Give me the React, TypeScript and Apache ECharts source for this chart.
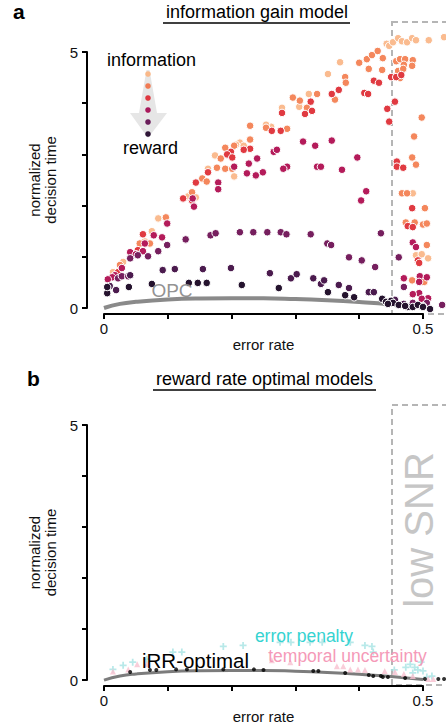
import React, { useEffect, useRef } from 'react';
import * as echarts from 'echarts';

const FF = '"Liberation Sans", Arial, Helvetica, sans-serif';

// ---------- panel a: information gain model (7 weighting levels, information -> reward) ----------
const levelNames = ['w1', 'w2', 'w3', 'w4', 'w5', 'w6', 'w7'];
const levelColors = ['#fabb8f', '#f4875c', '#e03a41', '#b41b5a', '#761f5e', '#4b1b4e', '#25132e'];

const level1 = [
  [0.443, 5.16], [0.447, 5.12], [0.453, 5.19], [0.461, 5.27], [0.467, 5.21], [0.475, 5.19], [0.483, 5.27],
  [0.489, 5.23], [0.509, 5.23], [0.533, 5.29], [0.37, 4.8], [0.351, 4.57], [0.321, 4.18], [0.306, 3.93],
  [0.279, 3.91], [0.262, 3.54], [0.254, 3.58], [0.213, 3.23], [0.207, 3.19], [0.219, 3.17], [0.174, 2.98],
  [0.163, 2.72], [0.204, 2.57], [0.132, 2.18], [0.144, 2.16], [0.085, 1.75], [0.075, 1.5], [0.064, 1.3],
  [0.014, 0.7], [0.03, 0.9], [0.484, 2.24], [0.489, 1.03], [0.498, 1.05], [0.508, 0.97],
];
const level2 = [
  [0.4, 4.79], [0.412, 4.86], [0.42, 4.94], [0.429, 5.02], [0.437, 4.88], [0.458, 4.82], [0.464, 4.86],
  [0.472, 4.86], [0.484, 4.84], [0.483, 4.73], [0.47, 4.75], [0.461, 4.63], [0.469, 4.67], [0.456, 4.51],
  [0.464, 4.49], [0.415, 4.67], [0.436, 4.65], [0.378, 4.51], [0.379, 4.4], [0.334, 4.18], [0.296, 4.11],
  [0.307, 4.05], [0.318, 3.91], [0.362, 4.07], [0.229, 3.56], [0.254, 3.52], [0.287, 3.5], [0.229, 3.29],
  [0.204, 3.17], [0.19, 3.13], [0.183, 2.92], [0.177, 2.74], [0.19, 2.72], [0.201, 2.72], [0.154, 2.53],
  [0.161, 2.47], [0.138, 2.26], [0.097, 1.77], [0.056, 1.26], [0.072, 1.26], [0.025, 0.84], [0.498, 3.72],
  [0.486, 3.35], [0.483, 2.94], [0.489, 2.8], [0.467, 2.24], [0.475, 2.24], [0.503, 1.95], [0.473, 1.67],
  [0.487, 1.67], [0.5, 1.63], [0.506, 1.65], [0.506, 1.23], [0.483, 0.54], [0.502, 0.51],
];
const level3 = [
  [0.423, 4.44], [0.431, 4.4], [0.45, 4.51], [0.458, 4.51], [0.466, 4.55], [0.357, 4.18], [0.368, 4.26],
  [0.408, 4.2], [0.414, 4.18], [0.324, 4.03], [0.326, 3.85], [0.315, 3.79], [0.279, 3.81], [0.263, 3.46],
  [0.277, 3.46], [0.229, 3.11], [0.219, 3.09], [0.199, 3.05], [0.193, 3.0], [0.201, 2.94], [0.163, 2.65],
  [0.144, 2.45], [0.124, 2.14], [0.138, 2.1], [0.061, 1.44], [0.053, 1.13], [0.022, 0.7], [0.456, 4.03],
  [0.444, 3.89], [0.447, 3.64], [0.459, 2.86], [0.459, 2.76], [0.469, 2.74], [0.483, 1.95], [0.476, 1.6],
  [0.484, 1.58], [0.492, 0.93], [0.494, 0.88],
];
const level4 = [
  [0.312, 3.25], [0.331, 3.17], [0.357, 3.27], [0.397, 2.94], [0.266, 3.05], [0.271, 3.09], [0.24, 2.92],
  [0.227, 2.82], [0.204, 2.76], [0.287, 2.76], [0.281, 2.72], [0.334, 2.76], [0.34, 2.76], [0.373, 2.7],
  [0.224, 2.63], [0.238, 2.59], [0.249, 2.65], [0.411, 2.28], [0.403, 2.1], [0.179, 2.45], [0.179, 2.32],
  [0.139, 2.14], [0.141, 1.98], [0.099, 1.65], [0.078, 1.42], [0.091, 1.38], [0.064, 1.26], [0.041, 1.09],
  [0.061, 1.11], [0.05, 1.05], [0.017, 0.64], [0.028, 0.78], [0.013, 0.6], [0.006, 0.56], [0.484, 1.28],
  [0.489, 1.19], [0.47, 0.58], [0.495, 0.62], [0.506, 0.6], [0.494, 0.51], [0.494, 0.29], [0.484, 0.27],
  [0.508, 0.19], [0.498, 0.18],
];
const level5 = [
  [0.128, 1.34], [0.167, 1.42], [0.175, 1.46], [0.213, 1.48], [0.234, 1.48], [0.256, 1.48], [0.277, 1.48],
  [0.286, 1.44], [0.324, 1.44], [0.35, 1.26], [0.356, 1.23], [0.384, 0.99], [0.404, 0.93], [0.425, 0.8],
  [0.434, 1.46], [0.462, 0.99], [0.099, 1.23], [0.085, 1.11], [0.041, 0.97], [0.053, 1.03], [0.069, 1.01],
  [0.022, 0.58], [0.028, 0.62], [0.038, 0.62], [0.47, 0.41], [0.484, 0.1], [0.506, 0.1], [0.53, 0.06],
];
const level6 = [
  [0.092, 0.74], [0.111, 0.76], [0.155, 0.76], [0.199, 0.78], [0.26, 0.68], [0.293, 0.58], [0.302, 0.66],
  [0.328, 0.58], [0.34, 0.47], [0.345, 0.54], [0.368, 0.45], [0.384, 0.39], [0.415, 0.31], [0.423, 0.31],
  [0.041, 0.64], [0.019, 0.35], [0.009, 0.43], [0.456, 0.16], [0.47, 0.08], [0.5, 0.04],
];
const level7 = [
  [0.005, 0.29], [0.005, 0.41], [0.039, 0.41], [0.075, 0.47], [0.133, 0.49], [0.147, 0.49], [0.161, 0.49],
  [0.216, 0.45], [0.274, 0.39], [0.351, 0.31], [0.378, 0.25], [0.392, 0.21], [0.436, 0.18], [0.442, 0.12],
  [0.45, 0.14], [0.453, 0.1], [0.462, 0.06], [0.476, 0.02], [0.484, 0.02], [0.492, 0.06], [0.5, 0.02],
  [0.511, -0.02], [0.445, 0.08], [0.472, 0.04],
];
const levels = [level1, level2, level3, level4, level5, level6, level7];

// optimal performance curve
const opcX = [0, 0.025, 0.05, 0.1, 0.15, 0.2, 0.25, 0.3, 0.35, 0.4, 0.45, 0.5];
const opcY = [0, 0.08, 0.12, 0.165, 0.185, 0.19, 0.19, 0.175, 0.15, 0.115, 0.07, 0.01];

// ---------- panel b: reward rate optimal models ----------
const irrOptimal = [
  [0.041, 0.16], [0.072, 0.2], [0.082, 0.2], [0.113, 0.21], [0.13, 0.21], [0.187, 0.21], [0.235, 0.21],
  [0.25, 0.2], [0.328, 0.18], [0.336, 0.18], [0.378, 0.14], [0.415, 0.1], [0.422, 0.08], [0.434, 0.08],
  [0.437, 0.06], [0.445, 0.06], [0.472, 0.04], [0.503, 0.02], [0.524, 0.02], [0.533, 0.02],
];
const errorPenalty = [
  [0.014, 0.21], [0.03, 0.29], [0.045, 0.35], [0.067, 0.41], [0.108, 0.55], [0.122, 0.55], [0.187, 0.66],
  [0.218, 0.68], [0.276, 0.74], [0.293, 0.74], [0.323, 0.74], [0.342, 0.74], [0.386, 0.74], [0.409, 0.68],
  [0.42, 0.66], [0.422, 0.55], [0.48, 0.31], [0.487, 0.25], [0.492, 0.2], [0.5, 0.18], [0.484, 0.14],
  [0.506, 0.06], [0.514, 0.08], [0.473, 0.25], [0.497, 0.35], [0.455, 0.2],
];
const temporalUncertainty = [
  [0.014, 0.17], [0.038, 0.21], [0.052, 0.31], [0.067, 0.31], [0.263, 0.39], [0.292, 0.35], [0.365, 0.27],
  [0.375, 0.27], [0.386, 0.21], [0.398, 0.21], [0.409, 0.2], [0.456, 0.16], [0.484, 0.08], [0.508, 0.02],
  [0.516, 0.02], [0.44, 0.18], [0.47, 0.12],
];

const yTickLabels = [0, 5];
const xTickLabels = [0, 0.5];
const legendColors = ['#f9b889', '#f07b54', '#df3840', '#a9195b', '#6a1d5a', '#2f1637'];

const PLUS = 'path://M3,0H5V3H8V5H5V8H3V5H0V3H3Z';

export default function App() {
  const ref = useRef<HTMLDivElement>(null);
  useEffect(() => {
    const chart = echarts.init(ref.current as HTMLDivElement, null, { renderer: 'svg' });
    const opcData = opcX.map((x, i) => [x, opcY[i]]);

    const xAxisBase = (gridIndex: number) => ({
      gridIndex,
      type: 'value',
      min: 0,
      max: 0.5,
      interval: 0.1,
      offset: 6,
      name: 'error rate',
      nameLocation: 'middle',
      nameGap: 15,
      nameTextStyle: { fontFamily: FF, fontSize: 15, color: '#111' },
      axisLine: { show: true, onZero: false, lineStyle: { color: '#000', width: 2 } },
      axisTick: { show: true, length: 5, lineStyle: { color: '#000', width: 2 } },
      axisLabel: {
        fontFamily: FF,
        fontSize: 15,
        color: '#111',
        margin: 7,
        formatter: (v: number) => {
          const hit = xTickLabels.find((t) => Math.abs(t - v) < 1e-9);
          return hit === undefined ? '' : String(hit);
        },
      },
      splitLine: { show: false },
    });
    const yAxisBase = (gridIndex: number) => ({
      gridIndex,
      type: 'value',
      min: 0,
      max: 5,
      interval: 1,
      offset: 17,
      name: 'normalized\ndecision time',
      nameLocation: 'middle',
      nameGap: 6,
      nameTextStyle: { fontFamily: FF, fontSize: 15, color: '#111', lineHeight: 16 },
      axisLine: { show: true, onZero: false, lineStyle: { color: '#000', width: 2 } },
      axisTick: { show: true, length: 5, lineStyle: { color: '#000', width: 2 } },
      axisLabel: {
        fontFamily: FF,
        fontSize: 15,
        color: '#111',
        margin: 9,
        formatter: (v: number) => (yTickLabels.includes(v) ? String(v) : ''),
      },
      splitLine: { show: false },
    });

    const levelSeries = levels.map((data, i) => ({
      name: levelNames[i],
      type: 'scatter',
      xAxisIndex: 0,
      yAxisIndex: 0,
      data,
      clip: false,
      symbolSize: 7.5,
      itemStyle: { color: levelColors[i], borderColor: '#fff', borderWidth: 1, opacity: 1 },
      z: 3,
    }));

    const option: any = {
      animation: false,
      backgroundColor: '#fff',
      grid: [
        { left: 104, right: 23, top: 52, bottom: 417 },
        { left: 104, right: 23, top: 425, bottom: 44 },
      ],
      xAxis: [xAxisBase(0), xAxisBase(1)],
      yAxis: [yAxisBase(0), yAxisBase(1)],
      series: [
        {
          name: 'OPC',
          type: 'line',
          xAxisIndex: 0,
          yAxisIndex: 0,
          data: opcData,
          smooth: true,
          showSymbol: false,
          clip: false,
          lineStyle: { color: '#8a8a8a', width: 4 },
          z: 2,
        },
        ...levelSeries,
        {
          name: 'OPC b',
          type: 'line',
          xAxisIndex: 1,
          yAxisIndex: 1,
          data: opcData,
          smooth: true,
          showSymbol: false,
          clip: false,
          lineStyle: { color: '#7c7c7c', width: 3 },
          z: 2,
        },
        {
          name: 'error penalty',
          type: 'scatter',
          xAxisIndex: 1,
          yAxisIndex: 1,
          data: errorPenalty,
          clip: false,
          symbol: PLUS,
          symbolSize: 7,
          itemStyle: { color: '#a6e3e3' },
          z: 3,
        },
        {
          name: 'temporal uncertainty',
          type: 'scatter',
          xAxisIndex: 1,
          yAxisIndex: 1,
          data: temporalUncertainty,
          clip: false,
          symbol: 'triangle',
          symbolSize: 6,
          itemStyle: { color: '#f8c0d0' },
          z: 3,
        },
        {
          name: 'iRR-optimal',
          type: 'scatter',
          xAxisIndex: 1,
          yAxisIndex: 1,
          data: irrOptimal,
          clip: false,
          symbolSize: 4,
          itemStyle: { color: '#000' },
          z: 4,
        },
      ],
      graphic: [
        // dashed "low SNR" regions
        {
          type: 'rect',
          z: 0,
          shape: { x: 392, y: 22, width: 70, height: 292 },
          style: { fill: 'none', stroke: '#b5b5b5', lineWidth: 2, lineDash: [6, 4] },
        },
        {
          type: 'rect',
          z: 0,
          shape: { x: 392, y: 405, width: 70, height: 280 },
          style: { fill: 'none', stroke: '#b5b5b5', lineWidth: 2, lineDash: [6, 4] },
        },
        // panel letters and titles
        {
          type: 'text', x: 13, y: 11.5, z: 10,
          style: { text: 'a', font: `bold 21px ${FF}`, fill: '#000', verticalAlign: 'middle' },
        },
        {
          type: 'text', x: 257, y: 12, z: 10,
          style: { text: 'information gain model', font: `18px ${FF}`, fill: '#000', align: 'center', verticalAlign: 'middle' },
        },
        { type: 'line', z: 10, shape: { x1: 163, y1: 23, x2: 350, y2: 23 }, style: { stroke: '#000', lineWidth: 1.5 } },
        {
          type: 'text', x: 27, y: 378, z: 10,
          style: { text: 'b', font: `bold 21px ${FF}`, fill: '#000', verticalAlign: 'middle' },
        },
        {
          type: 'text', x: 264.5, y: 379, z: 10,
          style: { text: 'reward rate optimal models', font: `18px ${FF}`, fill: '#000', align: 'center', verticalAlign: 'middle' },
        },
        { type: 'line', z: 10, shape: { x1: 153, y1: 390, x2: 376, y2: 390 }, style: { stroke: '#000', lineWidth: 1.5 } },
        // information -> reward legend
        {
          type: 'polygon', z: 5,
          shape: { points: [[146.5, 70], [149.5, 70], [157, 113], [167, 113], [148, 138], [130, 113], [139, 113]] },
          style: { fill: '#e6e6e6' },
        },
        ...legendColors.map((c, i) => ({
          type: 'circle', z: 6,
          shape: { cx: 148, cy: 74 + i * 12, r: 2.8 },
          style: { fill: c },
        })),
        {
          type: 'text', x: 151.5, y: 60, z: 10,
          style: { text: 'information', font: `18px ${FF}`, fill: '#000', align: 'center', verticalAlign: 'middle' },
        },
        {
          type: 'text', x: 150.5, y: 148, z: 10,
          style: { text: 'reward', font: `18px ${FF}`, fill: '#000', align: 'center', verticalAlign: 'middle' },
        },
        {
          type: 'text', x: 172, y: 290.5, z: 10,
          style: { text: 'OPC', font: `19px ${FF}`, fill: '#8c8c8c', align: 'center', verticalAlign: 'middle', opacity: 0.95 },
        },
        // panel b labels
        {
          type: 'text', x: 195.5, y: 660, z: 10,
          style: { text: 'iRR-optimal', font: `20.5px ${FF}`, fill: '#000', align: 'center', verticalAlign: 'middle' },
        },
        {
          type: 'text', x: 304, y: 636, z: 10,
          style: { text: 'error penalty', font: `17.5px ${FF}`, fill: '#35d3d1', align: 'center', verticalAlign: 'middle' },
        },
        {
          type: 'text', x: 347.5, y: 656, z: 10,
          style: { text: 'temporal uncertainty', font: `17.5px ${FF}`, fill: '#f59ab8', align: 'center', verticalAlign: 'middle' },
        },
        {
          type: 'text', x: 419, y: 530, z: 10, rotation: Math.PI / 2,
          style: { text: 'low SNR', font: `40px ${FF}`, fill: '#c6c6c6', align: 'center', verticalAlign: 'middle' },
        },
      ],
    };
    chart.setOption(option);
    return () => chart.dispose();
  }, []);
  return <div ref={ref} style={{ position: 'absolute', left: 0, top: 0, width: 446, height: 725 }} />;
}
